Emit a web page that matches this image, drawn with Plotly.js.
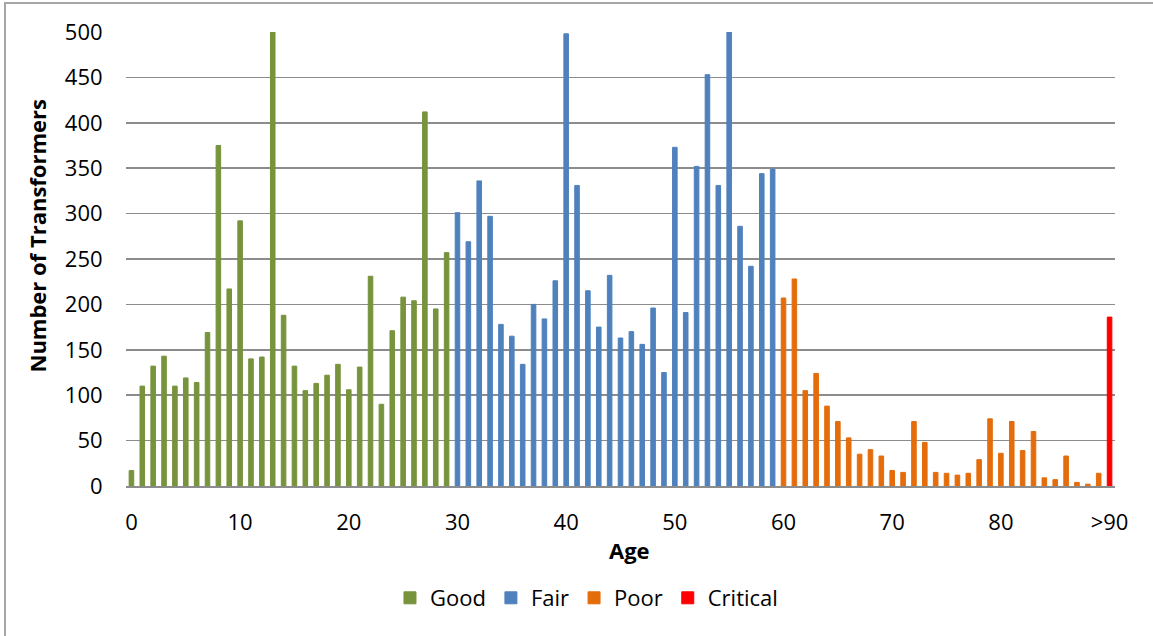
<!DOCTYPE html>
<html>
<head>
<meta charset="utf-8">
<script src="https://cdn.plot.ly/plotly-3.0.1.min.js"></script>
<style>
html,body{margin:0;padding:0;background:#fff;}
#wrap{position:relative;width:1153px;height:636px;overflow:hidden;}
#chart{width:1153px;height:636px;}
#frame{position:absolute;left:4px;top:2px;width:1160px;height:700px;border-top:2px solid #a6a6a6;border-left:2px solid #a6a6a6;pointer-events:none;}
</style>
</head>
<body>
<div id="wrap"><div id="chart"></div><div id="frame"></div></div>
<script>
// Ages (categories)
const goodAges = [0,1,2,3,4,5,6,7,8,9,10,11,12,13,14,15,16,17,18,19,20,21,22,23,24,25,26,27,28,29];
const fairAges = [30,31,32,33,34,35,36,37,38,39,40,41,42,43,44,45,46,47,48,49,50,51,52,53,54,55,56,57,58,59];
const poorAges = [60,61,62,63,64,65,66,67,68,69,70,71,72,73,74,75,76,77,78,79,80,81,82,83,84,85,86,87,88,89];
const criticalAges = [90];

// Number of transformers
const goodValues = [17,110,132,143,110,119,114,169,375,217,292,140,142,500,188,132,105,113,122,134,106,131,231,90,171,208,204,412,195,257];
const fairValues = [301,269,336,297,178,165,134,200,184,226,498,331,215,175,232,163,170,156,196,125,373,191,352,453,331,500,286,242,344,349];
const poorValues = [207,228,105,124,88,71,53,35,40,33,17,15,71,48,15,14,12,14,29,74,36,71,39,60,9,7,33,4,2,14];
const criticalValues = [186];

// Tick labels
const xTickVals = [0,10,20,30,40,50,60,70,80,90];
const xTickText = ["0","10","20","30","40","50","60","70","80",">90"];
const yTickVals = [0,50,100,150,200,250,300,350,400,450,500];

const FONT = "'Open Sans', 'Noto Sans', sans-serif";

function barTrace(name, x, y, color) {
  return {
    type: 'bar', name: name, x: x, y: y, width: 0.42,
    marker: {color: color, line: {width: 1, color: color}},
    hoverinfo: 'x+y'
  };
}

const data = [
  barTrace('Good', goodAges, goodValues, '#77933C'),
  barTrace('Fair', fairAges, fairValues, '#4F81BD'),
  barTrace('Poor', poorAges, poorValues, '#E46C0A'),
  barTrace('Critical', criticalAges, criticalValues, '#FF0000')
];

const layout = {
  width: 1153, height: 636,
  margin: {l: 126, r: 38, t: 32, b: 150, pad: 0},
  paper_bgcolor: '#ffffff', plot_bgcolor: '#ffffff',
  font: {family: FONT, size: 22, color: '#000000'},
  barmode: 'overlay',
  showlegend: true,
  legend: {
    orientation: 'h', x: 0.4656, xanchor: 'center', y: -0.2467, yanchor: 'middle',
    font: {family: FONT, size: 22, color: '#000'}, bgcolor: 'rgba(0,0,0,0)'
  },
  xaxis: {
    range: [-0.5, 90.5], tickmode: 'array', tickvals: xTickVals, ticktext: xTickText,
    showgrid: false, zeroline: false, showline: true, linecolor: '#8c8c8c', linewidth: 2,
    ticks: 'outside', ticklen: 16, tickcolor: 'rgba(0,0,0,0)',
    tickfont: {family: FONT, size: 22, color: '#000'}
  },
  yaxis: {
    range: [0, 500], tickmode: 'array', tickvals: yTickVals,
    showgrid: true, gridcolor: '#8c8c8c', gridwidth: 1.5, zeroline: false, showline: false,
    ticks: 'outside', ticklen: 18, tickcolor: 'rgba(0,0,0,0)',
    tickfont: {family: FONT, size: 22, color: '#000'}
  },
  annotations: [
    {text: '<b>Number of Transformers</b>', textangle: -90, xref: 'paper', yref: 'paper',
     x: (36.5 - 126) / 989, y: (486 - 236) / 454, xanchor: 'center', yanchor: 'middle',
     showarrow: false, font: {family: FONT, size: 22, color: '#000'}},
    {text: '<b>Age</b>', xref: 'paper', yref: 'paper',
     x: (629 - 126) / 989, y: (486 - 550) / 454, xanchor: 'center', yanchor: 'middle',
     showarrow: false, font: {family: FONT, size: 22, color: '#000'}}
  ]
};

Plotly.newPlot('chart', data, layout, {displayModeBar: false, staticPlot: true});
</script>
</body>
</html>
